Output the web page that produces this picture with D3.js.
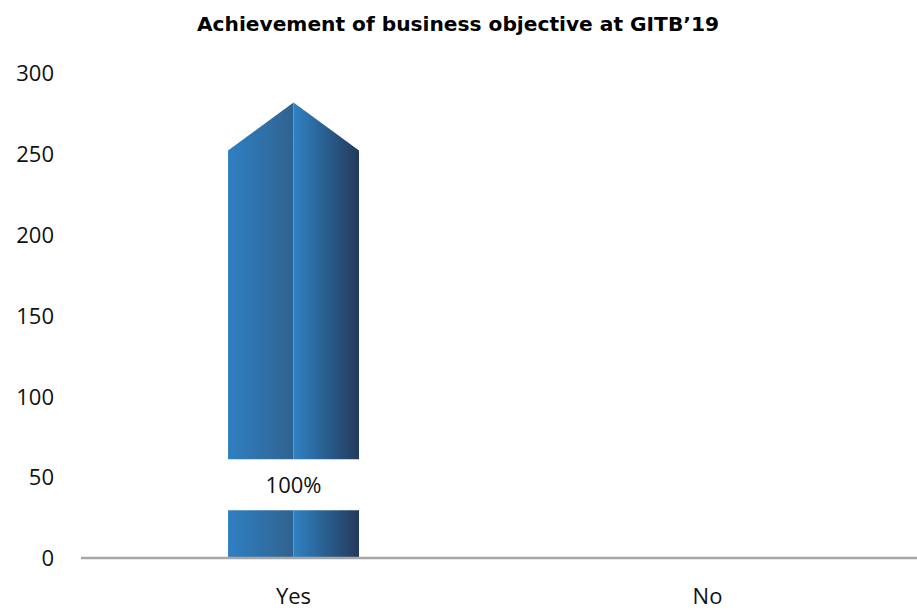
<!DOCTYPE html>
<html><head><meta charset="utf-8">
<script src="https://cdn.jsdelivr.net/npm/d3@7"></script>
<style>body{margin:0;background:#fff}svg{display:block}</style>
</head><body>
<script>
const categories = ["Yes", "No"];
const values = [252, 0];
const labels = ["100%", ""];
const yTicks = [0, 50, 100, 150, 200, 250, 300];
const title = "Achievement of business objective at GITB\u201919";

const W = 917, H = 610;
const svg = d3.select("body").append("svg").attr("width", W).attr("height", H);
const defs = svg.append("defs");
const g1 = defs.append("linearGradient").attr("id", "gl").attr("x1", 0).attr("x2", 1).attr("y1", 0).attr("y2", 0);
g1.append("stop").attr("offset", 0).attr("stop-color", "#2f80c2");
g1.append("stop").attr("offset", 1).attr("stop-color", "#30628f");
const g2 = defs.append("linearGradient").attr("id", "gr").attr("x1", 0).attr("x2", 1).attr("y1", 0).attr("y2", 0);
g2.append("stop").attr("offset", 0).attr("stop-color", "#2f82c3");
g2.append("stop").attr("offset", 1).attr("stop-color", "#233a5a");

const x = d3.scaleBand().domain(categories).range([84, 917]).paddingInner(0.6836).paddingOuter(0.348);
const y = d3.scaleLinear().domain([0, 300]).range([558, 73]);
const font = "Open Sans, sans-serif";

svg.append("text").attr("x", 458).attr("y", 31).attr("text-anchor", "middle")
  .attr("font-family", "DejaVu Sans Condensed, DejaVu Sans, sans-serif").attr("font-weight", "bold").attr("font-size", 19)
  .attr("textLength", 522).attr("lengthAdjust", "spacingAndGlyphs").text(title);

const yAxis = svg.append("g").attr("transform", `translate(54,0)`)
  .call(d3.axisLeft(y).tickValues(yTicks).tickSize(0).tickPadding(0));
yAxis.select(".domain").remove();
yAxis.selectAll("text").attr("font-family", font).attr("font-size", 22).attr("fill", "#111").attr("dy", "0.35em");

const bw = x.bandwidth();
const tip = 48;
categories.forEach((c, i) => {
  const v = values[i];
  if (!v) return;
  const x0 = x(c), xm = x0 + bw / 2, x1 = x0 + bw, yb = y(0), ys = y(v);
  svg.append("path").attr("d", `M${x0},${yb}L${x0},${ys}L${xm},${ys - tip}L${xm},${yb}Z`).attr("fill", "url(#gl)");
  svg.append("path").attr("d", `M${xm},${yb}L${xm},${ys - tip}L${x1},${ys}L${x1},${yb}Z`).attr("fill", "url(#gr)");
  if (labels[i]) {
    const ly = y(45);
    svg.append("rect").attr("x", x0 - 1).attr("y", ly - 26).attr("width", bw + 2).attr("height", 51).attr("fill", "#fff");
    svg.append("text").attr("x", xm).attr("y", ly).attr("dy", "0.35em").attr("text-anchor", "middle")
      .attr("font-family", font).attr("font-size", 22).attr("fill", "#111").text(labels[i]);
  }
});

svg.append("line").attr("x1", 81).attr("x2", 917).attr("y1", 558).attr("y2", 558)
  .attr("stroke", "#a6a6a6").attr("stroke-width", 2.5);
const xAxis = svg.append("g").attr("transform", `translate(0,558)`)
  .call(d3.axisBottom(x).tickSize(0).tickPadding(0));
xAxis.select(".domain").remove();
xAxis.selectAll("text").attr("font-family", font).attr("font-size", 22).attr("fill", "#111")
  .attr("dy", "0").attr("y", 46);
</script>
</body></html>
